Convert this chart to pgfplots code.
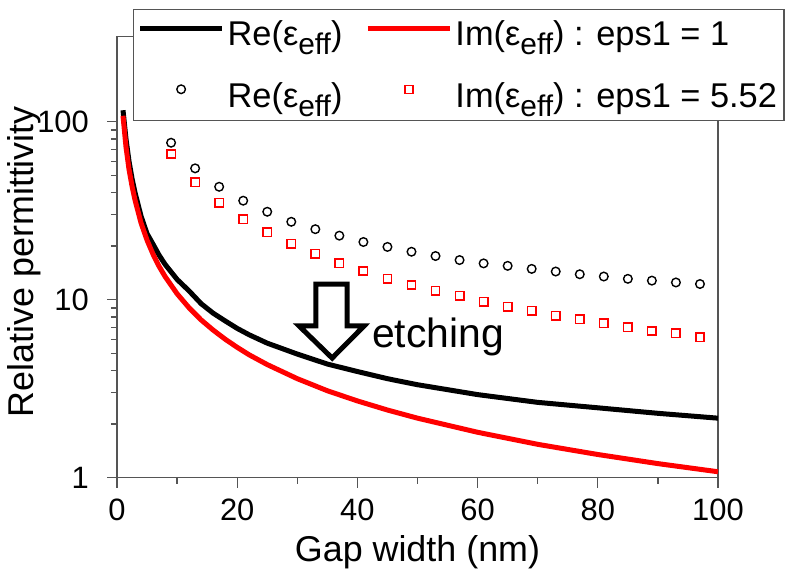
\documentclass[border=0pt]{standalone}
\usepackage{pgfplots}
\pgfplotsset{compat=1.18}
\usepackage{fontspec}
\setmainfont{Liberation Sans}
\newcommand{\eff}{\raisebox{-9bp}{\fontsize{30}{30}\selectfont eff}}
\definecolor{framegray}{RGB}{85,85,85}

\pgfplotstableread{
x y
1 116
1.5 80
2 60
2.5 48
3 40
4 29.5
5 23.5
6 20.5
7 17.8
8 15.8
10 13
12 11.2
14 9.5
16 8.4
18 7.6
20 6.9
22 6.35
25 5.7
30 4.95
35 4.35
40 3.95
45 3.6
50 3.33
60 2.93
70 2.65
80 2.47
90 2.3
100 2.16
}\reone

\pgfplotstableread{
x y
1 108
1.5 72
2 54
2.5 43.5
3 36.3
4 27
5 21.6
6 18
7 15.4
8 13.5
10 10.8
12 9.0
14 7.7
16 6.75
18 6.0
20 5.4
22 4.9
25 4.32
30 3.6
35 3.08
40 2.7
45 2.4
50 2.16
60 1.8
70 1.54
80 1.35
90 1.2
100 1.08
}\imone

\pgfplotstableread{
x re im
9 76.2 65.9
13 54.7 45.7
17 43.1 35.1
21 36.0 28.3
25 31.2 23.9
29 27.4 20.6
33 24.9 18.1
37 22.9 16.0
41 21.1 14.5
45 19.8 13.1
49 18.6 12.1
53 17.6 11.2
57 16.7 10.5
61 16.0 9.74
65 15.5 9.13
69 14.9 8.67
73 14.4 8.13
77 13.9 7.76
81 13.5 7.37
85 13.1 7.0
89 12.8 6.67
93 12.5 6.48
97 12.25 6.15
}\epsfive

\begin{document}
\begin{tikzpicture}
\useasboundingbox (-117bp,-102.3bp) rectangle (678bp,477.7bp);
\begin{axis}[
  at={(0,0)}, anchor=south west,
  scale only axis, width=601bp, height=440.9bp,
  xmin=0, xmax=100, ymode=log, ymin=1, ymax=300,
  xtick={0,20,40,60,80,100}, xticklabels={0,20,40,60,80,100},
  minor xtick={10,30,50,70,90},
  ytick={1,10,100}, yticklabels={1,10,100},
  tick align=outside, tick pos=left,
  major tick length=10bp, minor tick length=6bp,
  axis line style={framegray, line width=1.3bp},
  every tick/.style={framegray, line width=1.3bp},
  ticklabel style={font=\fontsize{31}{31}\selectfont},
  yticklabel style={inner sep=0bp, xshift=-18bp},
  xticklabel style={inner sep=0bp, yshift=-11bp},
  xlabel={Gap width (nm)},
  ylabel={Relative permittivity},
  every axis x label/.style={at={(axis description cs:0.5,-0.168)}, anchor=center, font=\fontsize{36}{36}\selectfont},
  every axis y label/.style={at={(axis description cs:-0.154,0.49)}, rotate=90, anchor=center, font=\fontsize{36}{36}\selectfont},
  legend columns=2,
  legend cell align=left,
  legend style={at={(axis description cs:0.0266,1.063)}, anchor=north west,
    draw=framegray, line width=1.3bp, fill=white,
    font=\fontsize{34.5}{34.5}\selectfont,
    inner xsep=4bp, inner ysep=8bp, row sep=30bp,
    nodes={inner sep=3bp},
    /tikz/every even column/.append style={column sep=20bp}},
]
\addplot[black, line width=5bp, line join=round,
  legend image code/.code={\draw[black, line width=5bp] (0bp,5bp) -- (82bp,5bp);}]
  table[x=x, y=y] {\reone};
\addlegendentry{Re(ε\eff)}
\addplot[red, line width=5bp, line join=round,
  legend image code/.code={\draw[red, line width=5bp] (0bp,5bp) -- (82bp,5bp);}]
  table[x=x, y=y] {\imone};
\addlegendentry{Im(ε\eff) : eps1 = 1}
\addplot[black, only marks, mark=o, mark size=4.3bp, mark options={black, line width=1.4bp},
  legend image code/.code={\draw[black, line width=1.4bp] (41bp,7bp) circle (4.3bp); \path[draw=none] (0bp,7bp) -- (82bp,7bp);}]
  table[x=x, y=re] {\epsfive};
\addlegendentry{Re(ε\eff)}
\addplot[red, only marks, mark=square, mark size=4.2bp, mark options={red, line width=1.5bp},
  legend image code/.code={\draw[red, line width=1.5bp] (37bp,3bp) rectangle (45bp,11bp); \path[draw=none] (0bp,7bp) -- (82bp,7bp);}]
  table[x=x, y=im] {\epsfive};
\addlegendentry{Im(ε\eff) : eps1 = 5.52}
\draw[black, line width=5bp, line join=miter]
  (axis cs:33.1,12.25) -- (axis cs:38.3,12.25) -- (axis cs:38.3,7.12) -- (axis cs:41.1,7.12)
  -- (axis cs:35.8,4.70) -- (axis cs:30.3,7.12) -- (axis cs:33.1,7.12) -- cycle;
\node[anchor=base west, inner sep=0pt, font=\fontsize{41}{41}\selectfont] at (axis cs:42.4,5.42) {etching};
\end{axis}
\end{tikzpicture}
\end{document}
